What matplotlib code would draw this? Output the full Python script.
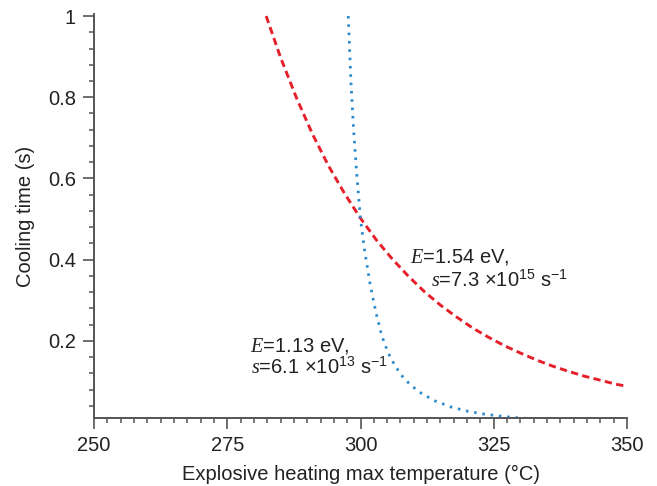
import matplotlib
matplotlib.use("Agg")
import matplotlib.pyplot as plt
from matplotlib.ticker import MultipleLocator, FixedLocator, FixedFormatter

plt.rcParams['font.family'] = ['Liberation Sans', 'DejaVu Sans']
plt.rcParams['mathtext.fontset'] = 'custom'
plt.rcParams['mathtext.rm'] = 'Liberation Sans'
plt.rcParams['mathtext.it'] = 'Liberation Serif:italic'
plt.rcParams['mathtext.default'] = 'rm'

# Cooling time vs. maximum temperature for two Arrhenius parameter sets
temp_hi = [282.3, 285.0, 288.0, 291.0, 294.0, 297.0, 300.0, 303.0, 306.0,
           309.0, 312.0, 315.0, 318.0, 321.0, 324.0, 327.0, 330.0, 333.0,
           336.0, 339.0, 342.0, 345.0, 348.0, 350.0]
time_hi = [1.0, 0.898, 0.798, 0.709, 0.631, 0.563, 0.502, 0.448, 0.401,
           0.359, 0.321, 0.288, 0.259, 0.232, 0.209, 0.188, 0.170, 0.153,
           0.138, 0.125, 0.113, 0.103, 0.093, 0.088]

temp_lo = [297.7, 298.2, 298.7, 299.3, 300.0, 300.8, 301.8, 302.9, 304.0,
           305.2, 306.5, 308.0, 309.5, 311.5, 314.0, 317.0, 320.0, 323.0,
           326.0, 329.0, 331.2]
time_lo = [1.0, 0.84, 0.72, 0.61, 0.50, 0.42, 0.34, 0.27, 0.212,
           0.17, 0.138, 0.110, 0.090, 0.070, 0.052, 0.037, 0.027, 0.020,
           0.015, 0.011, 0.009]

x_ticks = [250, 275, 300, 325, 350]
y_ticks = [0.2, 0.4, 0.6, 0.8, 1.0]
y_tick_labels = ['0.2', '0.4', '0.6', '0.8', '1']

fig = plt.figure(figsize=(6.57, 4.86), dpi=100)
ax = fig.add_axes([94 / 657, 68 / 486, 533 / 657, 404 / 486])

ax.plot(temp_hi, time_hi, color='#e5202a', lw=2.1, linestyle=(0, (2.5, 1.5)))
ax.plot(temp_lo, time_lo, color='#2a88cc', lw=2.0, linestyle=(0, (0.9, 2.1)))

ax.set_xlim(250, 350)
ax.set_ylim(0.01, 1.005)

ax.xaxis.set_major_locator(FixedLocator(x_ticks))
ax.xaxis.set_minor_locator(MultipleLocator(2.5))
ax.yaxis.set_major_locator(FixedLocator(y_ticks))
ax.yaxis.set_major_formatter(FixedFormatter(y_tick_labels))
ax.yaxis.set_minor_locator(MultipleLocator(0.04))

for side in ('top', 'right'):
    ax.spines[side].set_visible(False)
for side in ('left', 'bottom'):
    ax.spines[side].set_color('#555555')
    ax.spines[side].set_linewidth(1.4)

ax.tick_params(which='major', direction='out', length=8, width=1.2,
               color='#555555', labelsize=14.5, labelcolor='#222222', pad=5)
ax.tick_params(which='minor', direction='out', length=3.8, width=1.1,
               color='#555555')

ax.set_xlabel('Explosive heating max temperature (°C)', fontsize=14.5,
              color='#222222', labelpad=7)
ax.set_ylabel('Cooling time (s)', fontsize=14.5, color='#222222', labelpad=9)

txt_kw = dict(fontsize=14.5, color='#222222', va='baseline', ha='left')
ax.text(309.3, 0.394, r'$\mathit{E}$=1.54 eV,', **txt_kw)
ax.text(313.2, 0.332, r'$\mathit{s}$=7.3 ×10$^{15}$ s$^{-1}$', **txt_kw)
ax.text(279.3, 0.174, r'$\mathit{E}$=1.13 eV,', **txt_kw)
ax.text(279.4, 0.118, r'$\mathit{s}$=6.1 ×10$^{13}$ s$^{-1}$', **txt_kw)

fig.savefig('out.png', dpi=100)
